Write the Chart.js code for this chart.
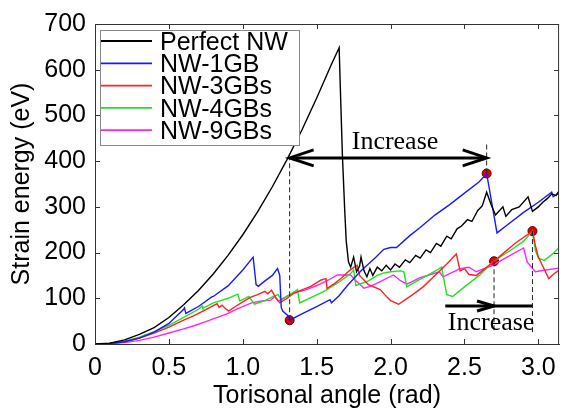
<!DOCTYPE html>
<html>
<head>
<meta charset="utf-8">
<script src="https://cdn.jsdelivr.net/npm/chart.js@4.4.1/dist/chart.umd.min.js"></script>
<style>
  html, body { margin: 0; padding: 0; background: #fff; }
  #wrap { width: 565px; height: 414px; position: relative; }
</style>
</head>
<body>
<div id="wrap"><canvas id="chart"></canvas></div>
<script>
"use strict";

// Series: [angle (rad), strain energy (eV)]
const perfectNW = [
    [0, 0], [0.1, 2], [0.2, 9], [0.3, 21], [0.4, 36], [0.5, 58], [0.6, 86], [0.7, 117],
    [0.8, 153], [0.9, 194], [1.0, 239], [1.1, 289], [1.2, 344], [1.3, 404], [1.4, 468],
    [1.5, 538], [1.6, 612], [1.652, 648], [1.66, 560], [1.674, 413], [1.69, 290], [1.70, 225],
    [1.715, 180], [1.73, 168], [1.75, 190], [1.77, 158], [1.79, 170], [1.80, 190], [1.82, 160],
    [1.84, 147], [1.86, 165], [1.88, 150], [1.91, 168], [1.94, 160], [1.97, 172], [2.00, 162],
    [2.03, 175], [2.06, 168], [2.10, 184], [2.13, 178], [2.17, 194], [2.20, 188], [2.24, 206],
    [2.27, 200], [2.31, 220], [2.34, 214], [2.38, 236], [2.41, 230], [2.45, 252], [2.48, 258],
    [2.52, 272], [2.55, 268], [2.59, 292], [2.62, 302], [2.65, 332], [2.68, 305], [2.71, 282],
    [2.76, 300], [2.78, 279], [2.82, 294], [2.87, 300], [2.93, 322], [2.96, 290], [3.00, 300],
    [3.03, 310], [3.06, 318], [3.09, 328], [3.12, 325], [3.14, 335]
];
const nw1GB = [
    [0, 0], [0.1, 1], [0.2, 5], [0.3, 13], [0.4, 26], [0.5, 45], [0.6, 76], [0.605, 79],
    [0.615, 67], [0.7, 82], [0.79, 103], [0.8, 104], [0.9, 127], [1.0, 162], [1.07, 190],
    [1.09, 130], [1.105, 126], [1.15, 138], [1.2, 150], [1.235, 165], [1.25, 150], [1.26, 80],
    [1.27, 72], [1.306, 62], [1.317, 52], [1.4, 66], [1.5, 82], [1.59, 97], [1.6, 90],
    [1.65, 105], [1.708, 128], [1.8, 160], [1.9, 190], [1.954, 207], [2.0, 211], [2.04, 211],
    [2.13, 237], [2.2, 255], [2.3, 282], [2.4, 305], [2.5, 330], [2.6, 355], [2.65, 373],
    [2.72, 243], [2.8, 263], [2.9, 288], [3.0, 310], [3.09, 332], [3.1, 322], [3.14, 330]
];
const nw3GBs = [
    [0, 0], [0.1, 1], [0.2, 5], [0.3, 13], [0.4, 24], [0.5, 37], [0.6, 52], [0.67, 62],
    [0.75, 75], [0.8, 84], [0.826, 88], [0.84, 80], [0.86, 85], [0.88, 78], [0.904, 72],
    [0.95, 82], [1.0, 92], [1.05, 102], [1.1, 108], [1.15, 115], [1.17, 110], [1.194, 118],
    [1.226, 100], [1.25, 90], [1.3, 100], [1.35, 112], [1.46, 126], [1.53, 140], [1.563, 143],
    [1.57, 122], [1.62, 132], [1.67, 145], [1.72, 160], [1.753, 168], [1.775, 172], [1.79, 150],
    [1.85, 130], [1.93, 119], [1.96, 108], [2.0, 95], [2.054, 87], [2.1, 97], [2.15, 108],
    [2.22, 125], [2.3, 150], [2.38, 175], [2.445, 197], [2.47, 160], [2.5, 165], [2.53, 152],
    [2.58, 150], [2.62, 160], [2.67, 173], [2.75, 195], [2.85, 222], [2.96, 247], [2.98, 215],
    [3.0, 190], [3.03, 170], [3.07, 143], [3.1, 152], [3.14, 162]
];
const nw4GBs = [
    [0, 0], [0.1, 1], [0.2, 6], [0.3, 15], [0.4, 27], [0.5, 41], [0.6, 58], [0.7, 76],
    [0.725, 83], [0.73, 78], [0.8, 90], [0.85, 95], [0.9, 100], [0.966, 109], [0.98, 94],
    [1.04, 104], [1.08, 87], [1.15, 95], [1.2, 103], [1.24, 108], [1.26, 96], [1.32, 108],
    [1.37, 119], [1.385, 90], [1.45, 100], [1.55, 115], [1.65, 135], [1.73, 154], [1.75, 162],
    [1.765, 128], [1.85, 138], [1.91, 150], [1.95, 155], [2.0, 158], [2.07, 160], [2.09, 158],
    [2.11, 125], [2.18, 138], [2.25, 150], [2.33, 165], [2.345, 168], [2.38, 108], [2.42, 104],
    [2.5, 125], [2.6, 150], [2.69, 179], [2.75, 192], [2.84, 211], [2.9, 225], [2.96, 247],
    [2.98, 205], [3.0, 188], [3.04, 183], [3.1, 198], [3.14, 211]
];
const nw9GBs = [
    [0, 0], [0.1, 1], [0.2, 3], [0.3, 8], [0.4, 15], [0.5, 24], [0.6, 33], [0.67, 40],
    [0.75, 49], [0.8, 55], [0.893, 66], [0.97, 78], [1.06, 90], [1.127, 94], [1.19, 96],
    [1.217, 104], [1.24, 94], [1.33, 110], [1.42, 118], [1.51, 129], [1.58, 140], [1.64, 151],
    [1.73, 151], [1.76, 140], [1.82, 122], [1.86, 126], [1.91, 133], [2.02, 151], [2.06, 140],
    [2.11, 131], [2.2, 145], [2.33, 158], [2.355, 147], [2.47, 165], [2.53, 168], [2.58, 158],
    [2.69, 172], [2.8, 192], [2.9, 210], [2.925, 179], [2.98, 158], [3.05, 162], [3.14, 166]
];

// Highlighted states (red dots)
const markerPoints = [[1.317, 52], [2.65, 373], [2.70, 181], [2.96, 247]];

// Dashed guide lines [x, yFrom, yTo]
const guideLines = [[1.317, 52, 407], [2.65, 373, 441], [2.70, 181, 23], [2.96, 247, 23]];

// Annotation arrows and labels (data coordinates)
const wideArrow = { from: 1.317, to: 2.65, y: 407 };
const shortArrow = { from: 2.37, to: 2.96, tip: 2.70, y: 83 };
const annotationLabels = [["Increase", 2.03, 441], ["Increase", 2.68, 45]];

const seriesNames = ["Perfect NW", "NW-1GB", "NW-3GBs", "NW-4GBs", "NW-9GBs"];
const seriesColors = ["#000000", "#1a1aff", "#ff2222", "#22e022", "#ff22ff"];
const seriesData = [perfectNW, nw1GB, nw3GBs, nw4GBs, nw9GBs];

const xTicks = [0, 0.5, 1.0, 1.5, 2.0, 2.5, 3.0];
const xTickLabels = ["0", "0.5", "1.0", "1.5", "2.0", "2.5", "3.0"];
const yTicks = [0, 100, 200, 300, 400, 500, 600, 700];

const sans = "'Liberation Sans', Arial, sans-serif";
const serif = "'Liberation Serif', 'Times New Roman', serif";

const toXY = pts => pts.map(p => ({ x: p[0], y: p[1] }));

const datasets = [];
// dashed guides first so the curves sit on top
guideLines.forEach(g => {
    datasets.push({
        data: [{ x: g[0], y: g[1] }, { x: g[0], y: g[2] }],
        showLine: true, borderColor: "#222", borderWidth: 1, borderDash: [5, 3],
        pointRadius: 0
    });
});
seriesData.forEach((pts, i) => {
    datasets.push({
        label: seriesNames[i],
        data: toXY(pts),
        showLine: true,
        borderColor: seriesColors[i],
        borderWidth: 1.4,
        pointRadius: 0,
        tension: 0
    });
});
datasets.push({
    data: toXY(markerPoints),
    showLine: false, pointRadius: 4.5, pointBackgroundColor: "#e00000",
    pointBorderColor: "#5a0000", pointBorderWidth: 1
});

function drawHead(ctx, tipX, y, dir, len, half) {
    ctx.beginPath();
    ctx.moveTo(tipX - dir * len, y - half);
    ctx.lineTo(tipX, y);
    ctx.lineTo(tipX - dir * len, y + half);
    ctx.stroke();
}

// Box frame, inward ticks, legend and annotations
const decorations = {
    id: "decorations",
    afterDatasetsDraw(chart) {
        const { ctx, chartArea: a, scales: { x, y } } = chart;
        ctx.save();
        ctx.strokeStyle = "#333";
        ctx.lineWidth = 1;
        ctx.strokeRect(a.left + 0.5, a.top + 0.5, a.right - a.left - 1, a.bottom - a.top);
        ctx.beginPath();
        xTicks.forEach(v => {
            const px = Math.round(x.getPixelForValue(v)) + 0.5;
            ctx.moveTo(px, a.bottom); ctx.lineTo(px, a.bottom - 5);
            ctx.moveTo(px, a.top); ctx.lineTo(px, a.top + 5);
        });
        yTicks.forEach(v => {
            const py = Math.round(y.getPixelForValue(v)) + 0.5;
            ctx.moveTo(a.left, py); ctx.lineTo(a.left + 5, py);
            ctx.moveTo(a.right, py); ctx.lineTo(a.right - 5, py);
        });
        ctx.stroke();

        // arrows
        ctx.strokeStyle = "#000";
        ctx.lineWidth = 3;
        ctx.lineCap = "butt";
        let ay = y.getPixelForValue(wideArrow.y);
        let x1 = x.getPixelForValue(wideArrow.from), x2 = x.getPixelForValue(wideArrow.to);
        ctx.beginPath(); ctx.moveTo(x1 + 2, ay); ctx.lineTo(x2 - 2, ay); ctx.stroke();
        drawHead(ctx, x1, ay, -1, 24, 8);
        drawHead(ctx, x2, ay, 1, 24, 8);

        ay = y.getPixelForValue(shortArrow.y);
        x1 = x.getPixelForValue(shortArrow.from);
        x2 = x.getPixelForValue(shortArrow.to);
        ctx.beginPath(); ctx.moveTo(x1, ay); ctx.lineTo(x2, ay); ctx.stroke();
        drawHead(ctx, x.getPixelForValue(shortArrow.tip), ay, 1, 17, 5);

        ctx.fillStyle = "#000";
        ctx.font = "26px " + serif;
        ctx.textAlign = "center";
        ctx.textBaseline = "middle";
        annotationLabels.forEach(l => {
            ctx.fillText(l[0], x.getPixelForValue(l[1]), y.getPixelForValue(l[2]));
        });

        // legend box inside the plot
        const lx = a.left + 5, ly = a.top + 6, lw = 199, lh = 115;
        ctx.fillStyle = "#fff";
        ctx.fillRect(lx, ly, lw, lh);
        ctx.strokeStyle = "#888";
        ctx.lineWidth = 1;
        ctx.strokeRect(lx + 0.5, ly + 0.5, lw, lh);
        ctx.font = "25px " + sans;
        ctx.textAlign = "left";
        seriesNames.forEach((name, i) => {
            const ry = ly + 11 + i * 22.3;
            ctx.strokeStyle = seriesColors[i];
            ctx.lineWidth = 1.8;
            ctx.beginPath(); ctx.moveTo(lx + 1, ry); ctx.lineTo(lx + 52, ry); ctx.stroke();
            ctx.fillStyle = "#000";
            ctx.fillText(name, lx + 60, ry + 2);
        });
        ctx.restore();
    }
};

new Chart(document.getElementById("chart"), {
    type: "scatter",
    data: { datasets: datasets },
    options: {
        responsive: true,
        maintainAspectRatio: false,
        animation: false,
        layout: { padding: { top: 16, right: 1, left: 0, bottom: 0 } },
        plugins: { legend: { display: false }, tooltip: { enabled: false } },
        scales: {
            x: {
                type: "linear", min: 0, max: 3.14,
                afterBuildTicks: s => { s.ticks = xTicks.map(v => ({ value: v })); },
                afterFit: s => { s.height = 70; },
                grid: { display: false, drawTicks: false },
                border: { display: true, color: "#333" },
                ticks: {
                    color: "#000", padding: 9, maxRotation: 0,
                    font: { family: sans, size: 25 },
                    callback: v => xTickLabels[xTicks.indexOf(v)]
                },
                title: {
                    display: true, text: "Torisonal angle (rad)", color: "#000",
                    font: { family: sans, size: 25 }, padding: { top: 0, bottom: 3 }
                }
            },
            y: {
                min: 0, max: 700,
                afterBuildTicks: s => { s.ticks = yTicks.map(v => ({ value: v })); },
                afterFit: s => { s.width = 95; },
                grid: { display: false, drawTicks: false },
                border: { display: true, color: "#333" },
                ticks: {
                    color: "#000", padding: 9,
                    font: { family: sans, size: 25 }
                },
                title: {
                    display: true, text: "Strain energy (eV)", color: "#000",
                    font: { family: sans, size: 25 }, padding: { top: 7, bottom: 0 }
                }
            }
        }
    },
    plugins: [decorations]
});
</script>
</body>
</html>
